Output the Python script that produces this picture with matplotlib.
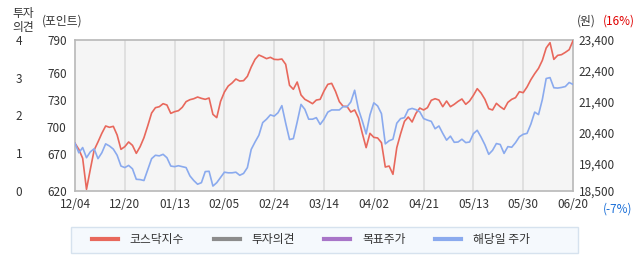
import numpy as np
import matplotlib
matplotlib.use("Agg")
import matplotlib.pyplot as plt
from matplotlib.lines import Line2D
from matplotlib.patches import Rectangle

plt.rcParams['font.family'] = ['Noto Sans CJK KR', 'DejaVu Sans']

# date labels every 13 trading days
date_labels = ['12/04', '12/20', '01/13', '02/05', '02/24', '03/14',
               '04/02', '04/21', '05/13', '05/30', '06/20']

# 코스닥지수 (left axis, points)
kosdaq = [673.7, 666.9, 656.8, 621.9, 644.4, 666.1, 675.2, 684.9, 693.2, 691.7,
          692.8, 683.0, 666.9, 669.9, 675.2, 671.4, 662.4, 669.9, 680.0, 693.5,
          707.8, 713.8, 714.9, 718.3, 716.8, 707.4, 709.3, 710.4, 714.2, 720.6,
          722.8, 723.9, 725.8, 724.3, 723.2, 724.7, 706.3, 702.6, 720.9, 731.4,
          738.2, 741.6, 746.1, 743.8, 744.2, 749.1, 759.6, 768.2, 773.1, 771.2,
          769.0, 770.5, 768.2, 767.9, 768.6, 762.6, 739.0, 734.5, 742.7, 728.1,
          723.2, 720.9, 718.3, 722.4, 723.2, 732.6, 740.1, 741.2, 732.2, 720.6,
          715.3, 715.3, 708.9, 711.2, 702.2, 684.9, 668.8, 684.9, 680.4, 679.7,
          674.4, 647.0, 648.1, 638.8, 668.8, 684.5, 698.4, 703.3, 697.7, 707.4,
          713.4, 711.2, 713.8, 722.1, 723.9, 722.4, 714.9, 721.3, 714.9, 717.6,
          720.9, 723.6, 717.6, 721.3, 727.7, 735.2, 730.3, 723.2, 712.7, 711.2,
          718.7, 714.9, 711.9, 719.8, 723.2, 725.1, 731.8, 730.7, 737.1, 745.3,
          752.1, 758.1, 767.1, 781.0, 787.0, 768.2, 772.7, 773.5, 776.1, 779.1,
          789.2]

# 해당일 주가 (right axis, won)
price = [20050, 19740, 19910, 19580, 19770, 19870, 19550, 19740, 20030, 19960,
         19860, 19660, 19310, 19260, 19330, 19220, 18880, 18870, 18840, 19200,
         19550, 19660, 19640, 19690, 19580, 19310, 19290, 19320, 19290, 19260,
         18990, 18840, 18720, 18770, 19130, 19140, 18660, 18770, 18940, 19110,
         19090, 19090, 19110, 19010, 19070, 19260, 19850, 20090, 20310, 20720,
         20830, 20970, 20930, 21040, 21270, 20700, 20170, 20200, 20740, 21310,
         21150, 20830, 20830, 20880, 20660, 20830, 21060, 21130, 21130, 21130,
         21240, 21230, 21390, 21770, 21150, 20770, 20350, 20970, 21360, 21260,
         21010, 20030, 20130, 20180, 20700, 20850, 20880, 21140, 21180, 21140,
         21070, 20850, 20800, 20760, 20520, 20610, 20370, 20150, 20280, 20080,
         20090, 20180, 20070, 20090, 20360, 20470, 20250, 20000, 19690, 19820,
         20040, 20010, 19720, 19940, 19920, 20070, 20260, 20340, 20370, 20670,
         21060, 20980, 21470, 22150, 22180, 21850, 21840, 21860, 21890, 22020,
         21960]

index_ticks = ['790', '760', '730', '700', '670', '620']
index_tick_pos = [790, 753.2, 722.4, 692.0, 661.6, 620]
opinion_ticks = [0, 1, 2, 3, 4]
price_ticks = [23400, 22400, 21400, 20400, 19400, 18500]

red = '#e8685c'
blue = '#8aaaee'
gray = '#8c8c8c'
purple = '#a875c8'
txt = '#333333'

fig = plt.figure(figsize=(6.42, 2.68), dpi=100)
ax = fig.add_axes([75/642, 1-191/268, 498/642, 151/268])
ax.set_facecolor('#f5f5f5')

x = np.arange(len(kosdaq))
ax.set_xlim(0, len(kosdaq)-1)
ax.set_ylim(620, 790)
xt = np.arange(0, len(kosdaq), 13)
ax.set_xticks(xt)
ax.set_xticklabels(date_labels)
for v in xt[1:-1]:
    ax.axvline(v, color='#dcdcdc', lw=1.2, zorder=0)
ax.set_yticks(index_tick_pos)
ax.set_yticklabels(index_ticks)
ax.tick_params(axis='both', length=0, labelsize=8.5, colors=txt)
ax.tick_params(axis='x', pad=5)
ax.tick_params(axis='y', pad=6)
for s in ax.spines.values():
    s.set_color('#b8b8b8')
    s.set_linewidth(1.2)

ax_op = ax.twinx()
ax_op.set_ylim(0, 4)
ax_op.set_yticks(opinion_ticks)
ax_op.yaxis.set_ticks_position('left')
ax_op.tick_params(axis='y', length=0, labelsize=8.5, colors=txt, pad=38)
for s in ax_op.spines.values():
    s.set_visible(False)

ax_pr = ax.twinx()
ax_pr.set_ylim(18500, 23400)
ax_pr.set_yticks(price_ticks)
ax_pr.set_yticklabels([f'{p:,}' for p in price_ticks])
ax_pr.tick_params(axis='y', length=0, labelsize=8.5, colors=txt, pad=4)
for s in ax_pr.spines.values():
    s.set_visible(False)

ax.plot(x, kosdaq, color=red, lw=1.2, zorder=3)
ax_pr.plot(x, price, color=blue, lw=1.2)

# headers
fig.text(12/642, 1-13/268, '투자', fontsize=8.5, color=txt, va='center')
fig.text(12/642, 1-27/268, '의견', fontsize=8.5, color=txt, va='center')
fig.text(42/642, 1-21/268, '(포인트)', fontsize=8.5, color=txt, va='center')
fig.text(577/642, 1-21/268, '(원)', fontsize=8.5, color=txt, va='center')
fig.text(603/642, 1-21/268, '(16%)', fontsize=8.5, color='#e00000', va='center')
fig.text(603/642, 1-209/268, '(-7%)', fontsize=8.5, color='#1a6fd8', va='center')

# legend box
fig.patches.append(Rectangle((71/642, 1-253/268), 507/642, 26/268,
                             transform=fig.transFigure, facecolor='#f5f9fd',
                             edgecolor='#d6e2ee', lw=1.0, zorder=0))
handles = [Line2D([], [], color=red, lw=3),
           Line2D([], [], color=gray, lw=3),
           Line2D([], [], color=purple, lw=3),
           Line2D([], [], color=blue, lw=3)]
names = ['코스닥지수', '투자의견', '목표주가', '해당일 주가']
leg = fig.legend(handles, names, ncol=4, loc='center left',
                 bbox_to_anchor=(92/642, 1-240/268),
                 borderaxespad=0, borderpad=0, fontsize=8.5,
                 handlelength=2.2, handletextpad=1.0, columnspacing=2.5,
                 frameon=False)
for t in leg.get_texts():
    t.set_color(txt)

fig.savefig('out.png', dpi=100)
